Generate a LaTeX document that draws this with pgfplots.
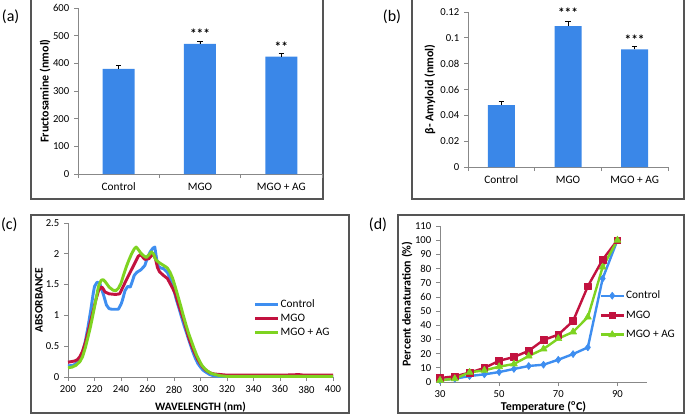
\documentclass[border=0pt]{standalone}
\usepackage{fontspec}
\setmainfont{Carlito}
\usepackage{pgfplots}
\pgfplotsset{compat=1.18}

\definecolor{barblue}{HTML}{3A87E8}
\definecolor{cblue}{HTML}{3E8EF0}
\definecolor{cred}{HTML}{C2123F}
\definecolor{cgreen}{HTML}{7ED321}
\definecolor{axgray}{HTML}{888888}
\definecolor{framegray}{HTML}{555555}

\pgfplotsset{
 exstyle/.style={
  scale only axis,
  anchor=south west,
  axis x line=bottom, axis y line=left,
  axis line style={draw=axgray, line width=0.75pt, -},
  tick align=outside,
  tick style={draw=axgray, line width=0.6pt},
  major tick length=3pt,
  tick label style={font=\fontsize{8}{9.5}\selectfont},
  /pgf/number format/assume math mode=true,
  clip=false,
 },
 ylaboff/.style={every axis y label/.style={at={([xshift=-#1]axis description cs:0,0.5)}, rotate=90, anchor=center, font=\bfseries\fontsize{9}{10.5}\selectfont}},
 xlaboff/.style={every axis x label/.style={at={([yshift=-#1]axis description cs:0.5,0)}, anchor=center, font=\bfseries\fontsize{9}{10.5}\selectfont}},
 catstyle/.style={
  xmin=-0.5, xmax=2.5,
  xtick={-0.5,0.5,1.5,2.5}, xticklabels={},
  extra x ticks={0,1,2}, extra x tick labels={Control,MGO,MGO + AG},
  extra x tick style={major tick length=0pt, tick label style={font=\fontsize{8.5}{10}\selectfont, yshift=-3pt}},
 },
 errstyle/.style={error bars/.cd, y dir=plus, y explicit, error bar style={black, line width=0.5pt}, error mark options={rotate=90, mark size=2pt, black, line width=0.5pt}},
}

\begin{document}
\begin{tikzpicture}
\useasboundingbox (0,0) rectangle (513.75pt,311.25pt);
\draw[framegray, line width=0.8pt] (23.25pt,162pt) rectangle (242.25pt,312pt);
\draw[framegray, line width=0.8pt] (309pt,162pt) rectangle (513pt,312pt);
\draw[framegray, line width=0.8pt] (23.25pt,1.5pt) rectangle (261.75pt,150pt);
\draw[framegray, line width=0.8pt] (298.5pt,1.5pt) rectangle (513pt,150pt);
\node[font=\fontsize{12}{14}\selectfont] at (8pt,298.5pt) {(a)};
\node[font=\fontsize{12}{14}\selectfont] at (294pt,298.5pt) {(b)};
\node[font=\fontsize{12}{14}\selectfont] at (7pt,142.5pt) {(c)};
\node[font=\fontsize{12}{14}\selectfont] at (283.5pt,142.5pt) {(d)};

% (a)
\begin{axis}[exstyle, catstyle, ylaboff=24.75pt, at={(58.5pt,180.75pt)}, width=183pt, height=124.5pt,
  ymin=0, ymax=600, ytick={0,100,...,600},
  ylabel={Fructosamine (nmol)},
  ybar, bar width=24pt]
\addplot[fill=barblue, draw=none, errstyle] coordinates {(0,380) +- (0,12) (1,470) +- (0,10) (2,424) +- (0,12)};
\node[font=\bfseries\fontsize{10}{11}\selectfont] at (axis cs:1,506) {***};
\node[font=\bfseries\fontsize{10}{11}\selectfont] at (axis cs:2,460) {**};
\end{axis}

% (b)
\begin{axis}[exstyle, catstyle, ylaboff=28.5pt, at={(351pt,186pt)}, width=150pt, height=116.25pt,
  ymin=0, ymax=0.12, ytick={0,0.02,...,0.121},
  yticklabel style={/pgf/number format/fixed, /pgf/number format/precision=2},
  ylabel={β- Amyloid (nmol)},
  ybar, bar width=20.25pt]
\addplot[fill=barblue, draw=none, errstyle] coordinates {(0,0.048) +- (0,0.0025) (1,0.109) +- (0,0.0035) (2,0.091) +- (0,0.0024)};
\node[font=\bfseries\fontsize{10}{11}\selectfont] at (axis cs:1,0.1198) {***};
\node[font=\bfseries\fontsize{10}{11}\selectfont] at (axis cs:2,0.0986) {***};
\end{axis}

% (c)
\begin{axis}[exstyle, ylaboff=21.75pt, xlaboff=22.5pt, at={(51pt,28.5pt)}, width=198.75pt, height=115.5pt,
  xmin=200, xmax=400, ymin=0, ymax=2.5,
  xtick={200,220,...,400}, ytick={0,0.5,...,2.5},
  xlabel={WAVELENGTH (nm)}, ylabel={ABSORBANCE},
  xlabel style={font=\bfseries\fontsize{8.5}{10}\selectfont},
  ylabel style={font=\bfseries\fontsize{8.5}{10}\selectfont},
  legend style={at={(0.70,0.515)}, anchor=north west, draw=none, fill=none,
    font=\fontsize{8.5}{10}\selectfont, row sep=1.5pt, inner sep=0pt, nodes={inner sep=1pt}},
  legend cell align=left,
  legend image code/.code={\draw[#1] (0pt,0pt) -- (17pt,0pt);},
  every axis plot/.append style={line width=2.2pt, line join=round}]
\addplot[cblue] coordinates {
(200,0.18) (204,0.19) (208,0.25) (211,0.40) (213,0.57) (215,0.80) (217,1.06) (219,1.35)
(220,1.47) (222,1.54) (224,1.52) (225,1.45) (227,1.32) (229,1.17) (231,1.11) (233,1.10)
(238,1.10) (240,1.18) (241,1.24) (243,1.40) (245,1.47) (247,1.46) (248,1.52) (250,1.65)
(252,1.70) (255,1.74) (258,1.81) (260,1.94) (262,2.03) (264,2.09) (265.5,2.11) (267,1.90)
(268,1.80) (270,1.77) (272,1.76) (275,1.70) (277,1.60) (279,1.48) (282,1.24) (284,1.10)
(286,0.95) (288,0.81) (290,0.68) (292,0.55) (294,0.42) (296,0.31) (298,0.22) (300,0.16)
(302,0.11) (304,0.08) (307,0.04) (310,0.02) (315,0.01) (400,0.01)};
\addlegendentry{Control}
\addplot[cred] coordinates {
(200,0.24) (205,0.26) (207,0.28) (209,0.33) (211,0.42) (213,0.55) (215,0.72) (217,0.90)
(219,1.07) (221,1.25) (223,1.40) (225,1.46) (226,1.45) (228,1.38) (231,1.35) (236,1.34)
(239,1.35) (241,1.44) (243,1.53) (246,1.66) (250,1.83) (253,1.96) (255,1.99) (257,1.93)
(258,1.91) (261,1.92) (263,1.97) (264.5,1.99) (266,1.92) (267.5,1.78) (269,1.71) (272,1.65)
(275,1.60) (277,1.52) (279,1.44) (281,1.35) (283.5,1.17) (286,1.01) (288,0.88) (290,0.72)
(292,0.58) (294,0.47) (296,0.37) (298,0.28) (300,0.21) (302,0.15) (304,0.11) (307,0.07)
(310,0.05) (315,0.04) (320,0.03) (360,0.03) (370,0.035) (374,0.04) (378,0.03) (400,0.03)};
\addlegendentry{MGO}
\addplot[cgreen] coordinates {
(200,0.15) (203,0.16) (206,0.19) (209,0.25) (211,0.33) (213,0.47) (215,0.64) (217,0.82)
(219,1.03) (221,1.25) (223,1.47) (225,1.57) (226.5,1.58) (228,1.55) (231,1.46) (234,1.41)
(236,1.40) (238,1.44) (240,1.52) (242,1.66) (244,1.79) (246,1.90) (248,2.00) (250,2.08)
(251.5,2.11) (253,2.07) (255,2.01) (257,1.97) (259,1.94) (261,1.98) (263,2.03) (264.5,2.00)
(266,1.91) (268,1.87) (270,1.84) (273,1.80) (275,1.77) (277,1.70) (279,1.60) (281,1.46)
(283,1.31) (285,1.16) (287,1.00) (289,0.85) (291,0.71) (293,0.59) (295,0.47) (297,0.36)
(299,0.27) (301,0.19) (303,0.14) (305,0.10) (308,0.06) (311,0.04) (315,0.02) (320,0.01) (400,0.01)};
\addlegendentry{MGO + AG}
\end{axis}

% (d)
\begin{axis}[exstyle, ylaboff=24.75pt, xlaboff=18.75pt, at={(330pt,24.75pt)}, width=155.25pt, height=117pt,
  xmin=30, xmax=100, ymin=0, ymax=110,
  xtick={30,50,70,90}, ytick={0,10,...,110},
  xlabel={Temperature (\textsuperscript{o}C)}, ylabel={Percent denaturation (\%)},
  legend style={at={(0.77,0.595)}, anchor=north west, draw=none, fill=none,
    font=\fontsize{8.5}{10}\selectfont, row sep=5.5pt, inner sep=0pt, nodes={inner sep=1pt}},
  legend cell align=left,
  every axis plot/.append style={line width=1.8pt, line join=round}]
\addplot[cblue, mark=diamond*, mark size=2.6pt, mark options={fill=cblue, line width=0.5pt}] coordinates {
(30,1.2) (35,2.3) (40,4.2) (45,5.4) (50,7) (55,9.2) (60,11.3) (65,12.2) (70,15.7) (75,19.7) (80,24.4) (85,72.9) (90,100)};
\addlegendentry{Control}
\addplot[cred, mark=square*, mark size=2.5pt, mark options={fill=cred, line width=0.5pt}] coordinates {
(30,2.8) (35,4) (40,6.6) (45,9.9) (50,15) (55,17.6) (60,22) (65,29.6) (70,33.4) (75,43) (80,67.5) (85,86.3) (90,100)};
\addlegendentry{MGO}
\addplot[cgreen, mark=triangle*, mark size=3pt, mark options={fill=cgreen, line width=0.5pt}] coordinates {
(30,1.2) (35,2.3) (40,6.8) (45,8.2) (50,10.8) (55,12.7) (60,18.3) (65,23.3) (70,30.6) (75,35.3) (80,45.8) (85,81) (90,100)};
\addlegendentry{MGO + AG}
\end{axis}
\end{tikzpicture}
\end{document}
